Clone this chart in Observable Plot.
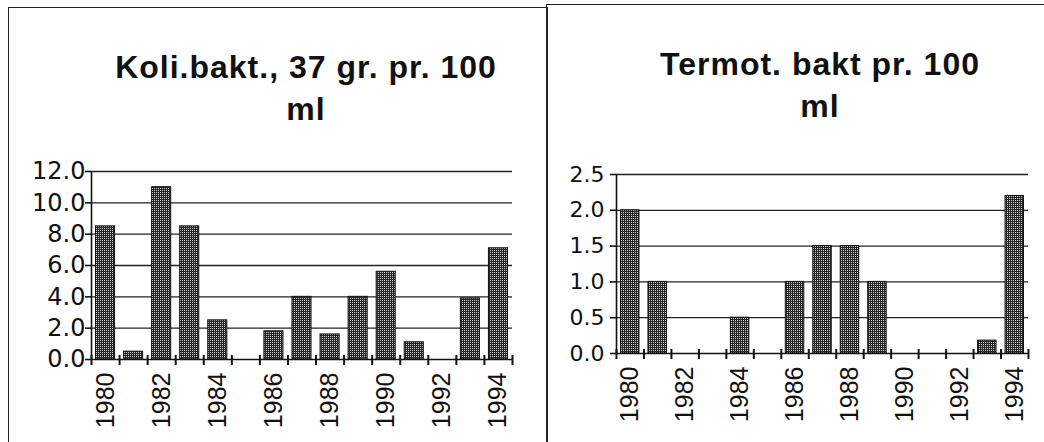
<!DOCTYPE html>
<html>
<head>
<meta charset="utf-8">
<script src="https://cdn.jsdelivr.net/npm/d3@7"></script>
<script src="https://cdn.jsdelivr.net/npm/@observablehq/plot@0.6"></script>
<style>
  html, body { margin: 0; padding: 0; background: #fff; width: 1044px; height: 442px; overflow: hidden; }
  #page { position: relative; width: 1044px; height: 442px; }
  .frame { position: absolute; border: 1.5px solid #222; box-sizing: border-box; }
  .title { position: absolute; width: 500px; text-align: center; font-family: "Liberation Sans", Arial, sans-serif; font-weight: bold; font-size: 32px; letter-spacing: 1px; line-height: 42px; color: #111; white-space: nowrap; }
  .chart { position: absolute; top: 0; }
</style>
</head>
<body>
<div id="page">
  <div class="frame" style="left:8px; top:7px; width:540px; height:460px;"></div>
  <div class="frame" style="left:546px; top:4px; width:520px; height:460px;"></div>
  <div class="title" style="left:56px; top:46px;">Koli.bakt., 37 gr. pr. 100<br>ml</div>
  <div class="title" style="left:570px; top:43px;">Termot. bakt pr. 100<br>ml</div>
  <div class="chart" id="left" style="left:0px;"></div>
  <div class="chart" id="right" style="left:547px;"></div>
</div>
<script>
const years = [1980, 1981, 1982, 1983, 1984, 1985, 1986, 1987, 1988, 1989, 1990, 1991, 1992, 1993, 1994];
const labelYears = [1980, 1982, 1984, 1986, 1988, 1990, 1992, 1994];
const koliValues = [8.5, 0.5, 11.0, 8.5, 2.5, 0, 1.8, 4.0, 1.6, 4.0, 5.6, 1.1, 0, 3.9, 7.1];
const termoValues = [2.0, 1.0, 0, 0, 0.5, 0, 1.0, 1.5, 1.5, 1.0, 0, 0, 0, 0.18, 2.2];
const koliTicks = [0, 2, 4, 6, 8, 10, 12];
const termoTicks = [0, 0.5, 1.0, 1.5, 2.0, 2.5];

function chart(cfg) {
  const data = years.map((year, i) => ({year, value: cfg.values[i]}));
  const x0 = years[0] - 0.5, x1 = years[years.length - 1] + 0.5;
  const boundaries = d3.range(years.length + 1).map(i => x0 + i);
  const svg = Plot.plot({
    width: cfg.width,
    height: cfg.height,
    marginLeft: cfg.marginLeft,
    marginRight: cfg.marginRight,
    marginTop: cfg.marginTop,
    marginBottom: cfg.marginBottom,
    style: {background: "transparent", overflow: "visible"},
    x: {type: "linear", domain: [x0, x1]},
    y: {domain: [0, cfg.yTicks[cfg.yTicks.length - 1]]},
    marks: [
      Plot.ruleY(cfg.yTicks.filter(t => t > 0), {stroke: "#222", strokeWidth: 1.3}),
      Plot.rectY(data.filter(d => d.value > 0), {
        x1: d => d.year - 0.5, x2: d => d.year + 0.5, y: "value",
        insetLeft: cfg.inset, insetRight: cfg.inset,
        fill: `url(#${cfg.id}-pat)`, stroke: "#111", strokeWidth: 1
      }),
      Plot.ruleY([0], {stroke: "#111", strokeWidth: 1.6}),
      Plot.ruleX([x0], {stroke: "#111", strokeWidth: 1.6}),
      Plot.ruleX(boundaries, {x: d => d, y1: () => 0, y2: () => 0, insetTop: -4, insetBottom: -6,
        stroke: "#111", strokeWidth: 2}),
      Plot.axisY({ticks: cfg.yTicks, tickSize: 6, tickPadding: cfg.yPad, tickFormat: d3.format(".1f"), label: null,
        fontSize: cfg.yFont, fontFamily: "DejaVu Sans, sans-serif", fill: "#111", stroke: "#111", strokeWidth: 1.6}),
      Plot.axisX(labelYears, {tickSize: 0, tickPadding: 13, tickRotate: -90, tickFormat: d => String(d), label: null,
        fontSize: 25, fontFamily: "Liberation Sans Narrow, Arial Narrow, sans-serif", fill: "#111"})
    ]
  });
  const defs = d3.select(svg).insert("defs", ":first-child");
  const pat = defs.append("pattern").attr("id", `${cfg.id}-pat`).attr("patternUnits", "userSpaceOnUse")
    .attr("width", 2).attr("height", 2);
  pat.append("rect").attr("width", 2).attr("height", 2).attr("fill", "#262626");
  pat.append("rect").attr("x", 0).attr("y", 0).attr("width", 1).attr("height", 1).attr("fill", "#d0d0d0");
  return svg;
}

document.getElementById("left").append(chart({
  id: "koli", values: koliValues, yTicks: koliTicks,
  width: 540, height: 442, marginLeft: 91, marginRight: 28, marginTop: 171, marginBottom: 83,
  inset: 4.5, yPad: 0, yFont: 24
}));
document.getElementById("right").append(chart({
  id: "termo", values: termoValues, yTicks: termoTicks,
  width: 497, height: 442, marginLeft: 69, marginRight: 16, marginTop: 174, marginBottom: 89,
  inset: 4.5, yPad: 6, yFont: 22
}));
</script>
</body>
</html>
